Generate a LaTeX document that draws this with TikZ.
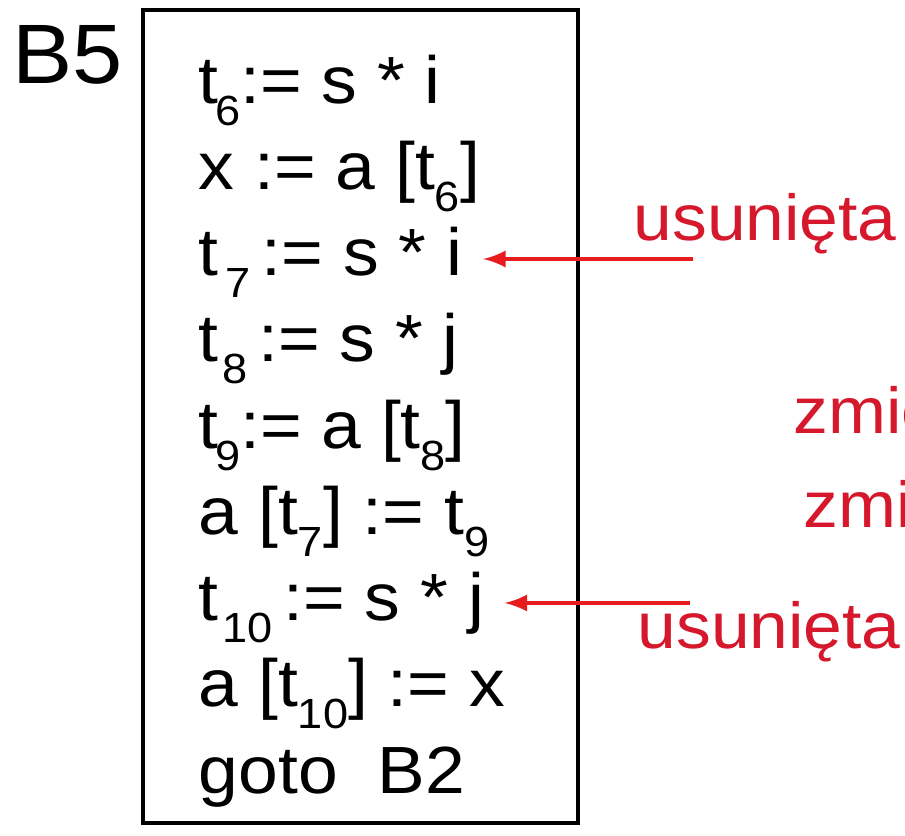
\documentclass[tikz,border=0pt]{standalone}
\usepackage{fontspec}
\setmainfont[FakeStretch=1.07]{Liberation Sans}
\usepackage{tikz}

\definecolor{uwaga}{RGB}{214,24,44}
\definecolor{strzal}{RGB}{232,28,30}

\newcommand{\ix}[2][0pt]{\kern#1\raisebox{-0.22cm}{\fontsize{12pt}{12pt}\selectfont #2}}

\tikzset{
  kod/.style   = {anchor=base west, inner sep=0pt, font=\fontsize{19pt}{19pt}\selectfont},
  uwagi/.style = {anchor=base west, inner sep=0pt, text=uwaga, font=\fontsize{18.5pt}{18.5pt}\selectfont},
  ciecie/.style = {strzal, line width=1.2pt, -latex, shorten >=0.2cm}
}

\begin{document}
\begin{tikzpicture}
        \useasboundingbox (0,0) rectangle (9.05,-8.36);
        \clip (0,0) rectangle (9.05,-8.36);

        \draw [line width=1.2pt]  (1.43,-0.10) rectangle (5.78,-8.23);   % blok B5
        \node [anchor=base west, inner sep=0pt, font=\fontsize{24pt}{24pt}\selectfont] (b5) at (0.12,-0.83) {B5};

        \node [kod] (l1) at (1.98,-1.03)   {t\ix[-1pt]{6}:= s * i};
        \node [kod] (l2) at (1.98,-1.89)   {x := a [t\ix{6}]};
        \node [kod] (l3) at (1.98,-2.755)  {t\ix[2pt]{7}\,:= s * i};
        \node [kod] (l4) at (1.98,-3.6175) {t\ix[1pt]{8}\,:= s * j};
        \node [kod] (l5) at (1.98,-4.48)   {t\ix[-1pt]{9}:= a [t\ix{8}]};
        \node [kod] (l6) at (1.98,-5.3425) {a [t\ix{7}] := t\ix{9}};
        \node [kod] (l7) at (1.98,-6.205)  {t\ix[1pt]{10}\,:= s * j};
        \node [kod] (l8) at (1.98,-7.0675) {a [t\ix{10}] := x};
        \node [kod] (l9) at (1.98,-7.93)   {goto~~B2};

        \node [uwagi] (u1) at (6.33,-2.40) {usunięta};
        \node [uwagi] (z1) at (7.93,-4.33) {zmie};
        \node [uwagi] (z2) at (8.03,-5.27) {zmie};
        \node [uwagi] (u2) at (6.37,-6.48) {usunięta};

        \coordinate (c3) at (6.93,-2.59);
        \coordinate (c7) at (6.90,-6.03);
        \draw [ciecie]  (c3) -- (c3 -| l3.east);
        \draw [ciecie]  (c7) -- (c7 -| l7.east);
      \end{tikzpicture}
\end{document}
